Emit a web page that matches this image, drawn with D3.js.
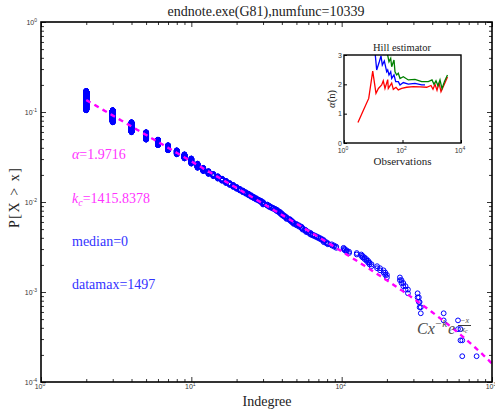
<!DOCTYPE html>
<html>
<head>
<meta charset="utf-8">
<script src="https://cdn.jsdelivr.net/npm/d3@7"></script>
<style>
  body { margin: 0; background: #fff; }
  svg { display: block; }
</style>
</head>
<body>
<svg id="chart" width="495" height="413"></svg>
<script>
// ---------------- data ----------------
const numFunc = 10339;
const chartTitle = "endnote.exe(G81),numfunc=10339";

// distinct indegree values (>= 2) and how many functions have each one
const degrees = [2,3,4,5,6,7,8,9,10,11,12,13,14,15,16,17,18,19,20,21,22,23,24,25,26,27,28,29,30,32,33,34,35,36,37,38,39,40,41,42,43,45,46,47,48,50,52,54,55,57,58,60,62,64,66,68,70,72,74,76,79,81,86,89,92,103,105,108,112,126,135,138,142,146,150,153,158,172,180,190,195,200,244,250,257,266,276,320,326,330,336,477,594,617,634,790,1497];
const counts  = [686,287,179,106,68,54,38,35,39,28,20,16,12,12,10,10,8,8,7,6,6,5,5,5,4,4,3,4,6,3,3,2,2,2,3,2,3,3,2,2,3,2,2,2,2,2,2,2,2,1,2,1,2,1,1,1,1,1,1,2,1,1,1,1,1,1,1,1,1,1,1,1,1,1,1,1,1,1,1,1,1,1,1,1,1,1,1,1,1,1,1,1,1,1,1,1,1];

// fitted power law with exponential cutoff
const alphaHat = 1.9716;
const kc = 1415.8378;
const fitScale = 0.2667;
const medianVal = 0;
const dataMax = 1497;

// axis ticks (powers of ten)
const xTickExp = [0, 1, 2, 3];
const yTickExp = [-4, -3, -2, -1, 0];

// Hill estimator curves: number of observations n and estimate alpha(n)
const hillRedN   = [3, 4.6, 7, 9.6, 12.4, 15, 19.4, 22, 25.2, 31.2, 32.7, 42.7, 48.5, 60, 71.8, 94, 139, 234, 396, 671, 943, 1103, 1292, 1511, 1769, 2070, 2623, 3450];
const hillRedA   = [0.70, 1.12, 1.52, 2.45, 1.69, 1.86, 1.98, 2.12, 1.86, 2.16, 1.86, 2.04, 1.83, 1.90, 1.81, 1.86, 1.90, 1.92, 1.91, 1.90, 1.96, 1.83, 2.00, 1.80, 2.05, 1.75, 1.98, 2.25];
const hillBlueN  = [11, 13.1, 16.1, 18.4, 20.4, 23.9, 28.8, 31.2, 34.5, 39.5, 42.7, 51.2, 58.6, 71.8, 82.2, 106.5, 158, 267, 453, 588];
const hillBlueA  = [3.30, 2.49, 2.77, 2.97, 2.66, 2.80, 2.43, 2.49, 2.32, 2.43, 2.20, 2.32, 2.09, 2.09, 1.98, 2.06, 2.01, 2.03, 1.98, 1.98];
const hillGreenN = [29, 34.5, 39.5, 42.7, 51.2, 55.4, 63.4, 71.8, 82.2, 106.5, 158, 267, 453, 762, 1020, 1195, 1397, 1636, 1914, 2240, 2727, 3450];
const hillGreenA = [3.15, 2.77, 2.89, 2.60, 2.83, 2.43, 2.32, 2.38, 2.20, 2.26, 2.15, 2.17, 2.09, 2.09, 2.15, 2.00, 2.12, 1.95, 2.15, 1.85, 2.10, 2.32];
const hillXTickExp = [0, 2, 4];
const hillYTicks = [0, 1, 2, 3];

// ---------------- layout ----------------
const svg = d3.select("#chart");
const serif = "'Liberation Serif', 'Times New Roman', serif";
const sans = "'Liberation Sans', Arial, sans-serif";
const plot = { left: 41, right: 492, top: 22, bottom: 382 };

const x = d3.scaleLog().domain([1, 1000]).range([plot.left, plot.right]);
const y = d3.scaleLog().domain([1e-4, 1]).range([plot.bottom, plot.top]);

const defs = svg.append("defs");
defs.append("clipPath").attr("id", "plotClip").append("rect")
  .attr("x", plot.left).attr("y", plot.top)
  .attr("width", plot.right - plot.left).attr("height", plot.bottom - plot.top);

// minor tick values inside each decade
function minorTicks(lo, hi) {
  const out = [];
  for (let e = lo; e < hi; e++) for (let m = 2; m <= 9; m++) out.push(m * Math.pow(10, e));
  return out;
}
const xMajor = xTickExp.map(e => Math.pow(10, e));
const yMajor = yTickExp.map(e => Math.pow(10, e));
const xMinor = minorTicks(0, 3);
const yMinor = minorTicks(-4, 0);

function drawTicks(axisFn, scale, values, size, transform) {
  const g = svg.append("g").attr("transform", transform)
    .call(axisFn(scale).tickValues(values).tickSizeInner(-size).tickSizeOuter(0).tickFormat(""));
  g.select(".domain").remove();
  g.selectAll("line").attr("stroke", "#000").attr("stroke-width", 0.8);
}
[[xMajor, 5], [xMinor, 3]].forEach(([v, s]) => {
  drawTicks(d3.axisBottom, x, v, s, `translate(0,${plot.bottom})`);
  drawTicks(d3.axisTop, x, v, s, `translate(0,${plot.top})`);
});
[[yMajor, 5], [yMinor, 3]].forEach(([v, s]) => {
  drawTicks(d3.axisLeft, y, v, s, `translate(${plot.left},0)`);
  drawTicks(d3.axisRight, y, v, s, `translate(${plot.right},0)`);
});

// "10^e" tick label
function powLabel(px, py, exp, anchor) {
  const t = svg.append("text").attr("x", px).attr("y", py)
    .attr("text-anchor", anchor).attr("fill", "#333")
    .style("font-family", sans).style("font-size", "7px");
  t.append("tspan").text("10");
  t.append("tspan").attr("dy", -3).style("font-size", "5px").text(String(exp));
}
xTickExp.forEach(e => powLabel(x(Math.pow(10, e)) - 1, plot.bottom + 7, e, "middle"));
yTickExp.forEach(e => powLabel(plot.left - 4, y(Math.pow(10, e)) + 3.3, e, "end"));

// ---------------- CCDF points ----------------
const pts = [];
let atLeast = d3.sum(counts);
degrees.forEach((d, i) => {
  for (let k = atLeast; k >= atLeast - counts[i]; k--) {
    if (k > 0) pts.push([d, k / numFunc]);
  }
  atLeast -= counts[i];
});
const visible = pts.filter(p => p[0] <= x.domain()[1] && p[1] >= y.domain()[0]);

svg.append("g").selectAll("circle").data(visible).join("circle")
  .attr("cx", p => x(p[0])).attr("cy", p => y(p[1])).attr("r", 2.4)
  .attr("fill", "none").attr("stroke", "#0000ff").attr("stroke-width", 1);

// ---------------- fitted curve ----------------
const fitPts = d3.range(0, 301).map(i => {
  const d = 2 * Math.pow(dataMax / 2, i / 300);
  return [d, fitScale * Math.pow(d, -(alphaHat - 1)) * Math.exp(-d / kc)];
});
svg.append("path").datum(fitPts)
  .attr("clip-path", "url(#plotClip)")
  .attr("d", d3.line().x(p => x(p[0])).y(p => y(p[1])))
  .attr("fill", "none").attr("stroke", "#ff00ff")
  .attr("stroke-width", 2.4).attr("stroke-dasharray", "5,4.4");

// frame
svg.append("rect").attr("x", plot.left).attr("y", plot.top)
  .attr("width", plot.right - plot.left).attr("height", plot.bottom - plot.top)
  .attr("fill", "none").attr("stroke", "#000").attr("stroke-width", 1.6);

// ---------------- titles & annotations ----------------
svg.append("text").attr("x", 266).attr("y", 16).attr("text-anchor", "middle")
  .attr("fill", "#222").style("font-family", serif).style("font-size", "14px").text(chartTitle);
svg.append("text").attr("x", 267).attr("y", 406).attr("text-anchor", "middle")
  .attr("fill", "#222").style("font-family", serif).style("font-size", "14px").text("Indegree");
svg.append("text").attr("transform", "translate(19,198) rotate(-90)").attr("text-anchor", "middle")
  .attr("fill", "#222").style("font-family", serif).style("font-size", "14px")
  .attr("textLength", 60).attr("lengthAdjust", "spacing").text("P[X > x]");

const a1 = svg.append("text").attr("x", 72).attr("y", 159).attr("fill", "#ff33ff")
  .style("font-family", serif).style("font-size", "14px");
a1.append("tspan").style("font-style", "italic").text("α");
a1.append("tspan").text("=" + alphaHat.toFixed(4));

const a2 = svg.append("text").attr("x", 72).attr("y", 202.5).attr("fill", "#ff33ff")
  .style("font-family", serif).style("font-size", "14px");
a2.append("tspan").style("font-style", "italic").text("k");
a2.append("tspan").attr("dy", 3).style("font-size", "10px").style("font-style", "italic").text("c");
a2.append("tspan").attr("dy", -3).text("=" + kc.toFixed(4));

svg.append("text").attr("x", 72).attr("y", 246).attr("fill", "#3333ff")
  .style("font-family", serif).style("font-size", "14px").text("median=" + medianVal);
svg.append("text").attr("x", 72).attr("y", 289).attr("fill", "#3333ff")
  .style("font-family", serif).style("font-size", "14px").text("datamax=" + dataMax);

// model formula next to the tail
const fx = svg.append("text").attr("x", 417).attr("y", 334).attr("fill", "#4d4d4d")
  .style("font-family", serif).style("font-size", "16px").style("font-style", "italic");
fx.append("tspan").text("Cx");
fx.append("tspan").attr("dy", -7).style("font-size", "11px").text("−k");
fx.append("tspan").attr("dy", 7).attr("dx", 1).text("e");
svg.append("text").attr("x", 464.5).attr("y", 323).attr("text-anchor", "middle").attr("fill", "#4d4d4d")
  .style("font-family", serif).style("font-size", "8px").style("font-style", "italic").text("−x");
svg.append("line").attr("x1", 458).attr("x2", 471).attr("y1", 325.5).attr("y2", 325.5)
  .attr("stroke", "#222").attr("stroke-width", 0.9);
const den = svg.append("text").attr("x", 464.5).attr("y", 331.5).attr("text-anchor", "middle").attr("fill", "#4d4d4d")
  .style("font-family", serif).style("font-size", "8px").style("font-style", "italic");
den.append("tspan").text("x");
den.append("tspan").attr("dy", 1.5).style("font-size", "6px").text("c");

// ---------------- Hill estimator inset ----------------
const ins = { left: 344, right: 461, top: 55, bottom: 143 };
const hx = d3.scaleLog().domain([1, 1e4]).range([ins.left, ins.right]);
const hy = d3.scaleLinear().domain([0, 3]).range([ins.bottom, ins.top]);

svg.append("rect").attr("x", ins.left).attr("y", ins.top)
  .attr("width", ins.right - ins.left).attr("height", ins.bottom - ins.top).attr("fill", "#fff");
defs.append("clipPath").attr("id", "insetClip").append("rect")
  .attr("x", ins.left).attr("y", ins.top)
  .attr("width", ins.right - ins.left).attr("height", ins.bottom - ins.top);

const hillLine = d3.line().x(p => hx(p[0])).y(p => hy(p[1]));
[[hillRedN, hillRedA, "#ff0000"], [hillBlueN, hillBlueA, "#0000ff"], [hillGreenN, hillGreenA, "#008000"]]
  .forEach(([ns, as, col]) => {
    svg.append("path").datum(ns.map((n, i) => [n, as[i]]))
      .attr("clip-path", "url(#insetClip)")
      .attr("d", hillLine).attr("fill", "none").attr("stroke", col).attr("stroke-width", 1.3);
  });

const hxVals = hillXTickExp.map(e => Math.pow(10, e));
const gIx = svg.append("g").attr("transform", `translate(0,${ins.bottom})`)
  .call(d3.axisBottom(hx).tickValues(hxVals).tickSizeInner(-3).tickSizeOuter(0).tickFormat(""));
gIx.select(".domain").remove();
const gIy = svg.append("g").attr("transform", `translate(${ins.left},0)`)
  .call(d3.axisLeft(hy).tickValues(hillYTicks).tickSizeInner(-3).tickSizeOuter(0).tickFormat(""));
gIy.select(".domain").remove();
svg.selectAll("g line").attr("stroke", "#000");

svg.append("rect").attr("x", ins.left).attr("y", ins.top)
  .attr("width", ins.right - ins.left).attr("height", ins.bottom - ins.top)
  .attr("fill", "none").attr("stroke", "#000").attr("stroke-width", 1.4);

hillXTickExp.forEach(e => powLabel(hx(Math.pow(10, e)) - 1, ins.bottom + 10, e, "middle"));
hillYTicks.forEach(v => svg.append("text").attr("x", ins.left - 2).attr("y", hy(v) + 2.5)
  .attr("text-anchor", "end").attr("fill", "#333")
  .style("font-family", sans).style("font-size", "7px").text(v));

svg.append("text").attr("x", 402).attr("y", 50.5).attr("text-anchor", "middle").attr("fill", "#222")
  .style("font-family", serif).style("font-size", "10.5px").text("Hill estimator");
svg.append("text").attr("x", 402.5).attr("y", 165).attr("text-anchor", "middle").attr("fill", "#222")
  .style("font-family", serif).style("font-size", "11px").text("Observations");
const yl = svg.append("text").attr("transform", "translate(335,99) rotate(-90)").attr("text-anchor", "middle")
  .attr("fill", "#222").style("font-family", serif).style("font-size", "10.5px");
yl.append("tspan").style("font-style", "italic").text("α\u0302");
yl.append("tspan").text("(n)");
</script>
</body>
</html>
